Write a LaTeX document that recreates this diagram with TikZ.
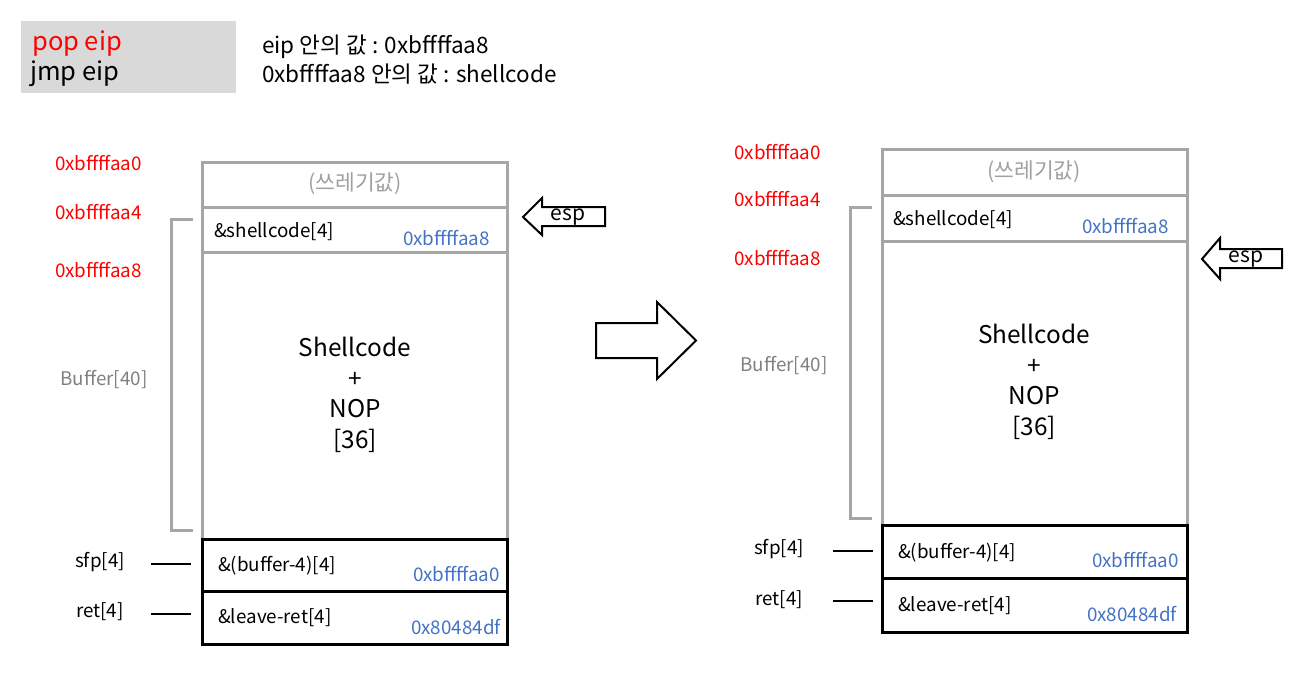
\documentclass[tikz,border=0pt]{standalone}
\usepackage{fontspec}
\setmainfont{Noto Sans CJK KR}
\definecolor{grayline}{HTML}{A6A6A6}
\definecolor{graybox}{HTML}{D9D9D9}
\definecolor{addrred}{HTML}{FF0000}
\definecolor{valblue}{HTML}{4472C4}
\definecolor{graytext}{HTML}{A0A0A0}
\definecolor{buftext}{HTML}{808080}
\tikzset{
  gcell/.style={draw=grayline, line width=3pt, inner sep=0pt},
  bcell/.style={draw=black, line width=3pt, inner sep=0pt},
  txt/.style={inner sep=0pt, font=\fontsize{18.8}{22}\selectfont},
  addr/.style={txt, text=addrred},
  val/.style={txt, text=valblue, anchor=east},
  big/.style={inner sep=0pt, align=center, font=\fontsize{24.4}{30.5}\selectfont},
  bracket/.style={draw=grayline, line width=3pt},
  tick/.style={draw=black, line width=2.5pt},
  outline/.style={draw=black, line width=2pt, fill=white, line join=miter},
  hdrtxt/.style={inner sep=0pt, anchor=west, font=\fontsize{25.5}{28}\selectfont},
  note/.style={inner sep=0pt, anchor=west, font=\fontsize{22.5}{25}\selectfont},
  junk/.style={inner sep=0pt, text=graytext, font=\fontsize{21.5}{24}\selectfont},
}
\begin{document}
\begin{tikzpicture}[x=1pt,y=-1pt]
\useasboundingbox (0,0) rectangle (1308,688);
% header
\node[fill=graybox, minimum width=215pt, minimum height=72pt, inner sep=0pt, anchor=north west] (hdr) at (21,21) {};
\node[hdrtxt, text=addrred] (pop) at (32,44) {pop eip};
\node[hdrtxt] (jmp) at (30,74) {jmp eip};
\node[note] (n1) at (262,47) {eip 안의 값 : 0xbffffaa8};
\node[note] (n2) at (262,74) {0xbffffaa8 안의 값 : shellcode};

% ===== left stack =====
\node[gcell, minimum width=305pt, minimum height=45pt] (Lg) at (354.5,184.5) {};
\node[gcell, minimum width=305pt, minimum height=45pt] (Ls) at (354.5,229.5) {};
\node[gcell, minimum width=305pt, minimum height=287pt] (Lb) at (354.5,395.5) {};
\node[bcell, minimum width=305pt, minimum height=52pt] (Lf) at (354.5,565) {};
\node[bcell, minimum width=305pt, minimum height=53pt] (Lr) at (354.5,617.5) {};

\node[junk] (Lgt) at (355,184) {(쓰레기값)};
\node[txt, anchor=west] (Lst) at (214,232) {\&shellcode[4]};
\node[val] (Lsv) at (490,238) {0xbffffaa8};
\node[big] (Lbt) at (355,395) {Shellcode\\+\\NOP\\{[36]}};
\node[txt, anchor=west] (Lft) at (218,566) {\&(buffer-4)[4]};
\node[val] (Lfv) at (500,574) {0xbffffaa0};
\node[txt, anchor=west] (Lrt) at (218,618) {\&leave-ret[4]};
\node[val] (Lrv) at (501,627) {0x80484df};

\node[addr, anchor=west] (La0) at (55,163) {0xbffffaa0};
\node[addr, anchor=west] (La4) at (55,212) {0xbffffaa4};
\node[addr, anchor=west] (La8) at (55,270) {0xbffffaa8};
\node[txt, text=buftext] (Lbuf) at (104,379) {Buffer[40]};
\draw[bracket] (193,219) -- (171,219) -- (171,530) -- (193,530);
\node[txt] (Lsfp) at (100,562) {sfp[4]};
\node[txt] (Lret) at (100,612) {ret[4]};
\coordinate (Lsfpe) at (151,564);
\coordinate (Lrete) at (151,614);
\draw[tick] (Lsfpe) -- ++(40,0);
\draw[tick] (Lrete) -- ++(40,0);

% left esp arrow
\draw[outline] (523,217) -- (542,198) -- (542,207) -- (605,207) -- (605,226) -- (542,226) -- (542,235) -- cycle;
\node[txt, font=\fontsize{21}{24}\selectfont] (Lesp) at (568,217) {esp};

% big arrow
\draw[outline] (596,323) -- (657,323) -- (657,302) -- (696,340.5) -- (657,379) -- (657,358) -- (596,358) -- cycle;

% ===== right stack =====
\node[gcell, minimum width=305pt, minimum height=46pt] (Rg) at (1034.5,172) {};
\node[gcell, minimum width=305pt, minimum height=46pt] (Rs) at (1034.5,218) {};
\node[gcell, minimum width=305pt, minimum height=284pt] (Rb) at (1034.5,383) {};
\node[bcell, minimum width=305pt, minimum height=53pt] (Rf) at (1034.5,551.5) {};
\node[bcell, minimum width=305pt, minimum height=54pt] (Rr) at (1034.5,605) {};

\node[junk] (Rgt) at (1034,172) {(쓰레기값)};
\node[txt, anchor=west] (Rst) at (893,220) {\&shellcode[4]};
\node[val] (Rsv) at (1169,226) {0xbffffaa8};
\node[big] (Rbt) at (1034,382) {Shellcode\\+\\NOP\\{[36]}};
\node[txt, anchor=west] (Rft) at (898,553) {\&(buffer-4)[4]};
\node[val] (Rfv) at (1179,560) {0xbffffaa0};
\node[txt, anchor=west] (Rrt) at (898,606) {\&leave-ret[4]};
\node[val] (Rrv) at (1177,614) {0x80484df};

\node[addr, anchor=west] (Ra0) at (734,152) {0xbffffaa0};
\node[addr, anchor=west] (Ra4) at (734,199) {0xbffffaa4};
\node[addr, anchor=west] (Ra8) at (734,258) {0xbffffaa8};
\node[txt, text=buftext] (Rbuf) at (784,365) {Buffer[40]};
\draw[bracket] (872,207) -- (850,207) -- (850,518) -- (872,518);
\node[txt] (Rsfp) at (779,549) {sfp[4]};
\node[txt] (Rret) at (779,600) {ret[4]};
\coordinate (Rsfpe) at (833,551);
\coordinate (Rrete) at (833,601);
\draw[tick] (Rsfpe) -- ++(40,0);
\draw[tick] (Rrete) -- ++(40,0);

% right esp arrow
\draw[outline] (1202,259) -- (1220,238) -- (1220,249) -- (1282,249) -- (1282,268) -- (1220,268) -- (1220,279) -- cycle;
\node[txt, font=\fontsize{21}{24}\selectfont] (Resp) at (1246,259) {esp};
\end{tikzpicture}
\end{document}
